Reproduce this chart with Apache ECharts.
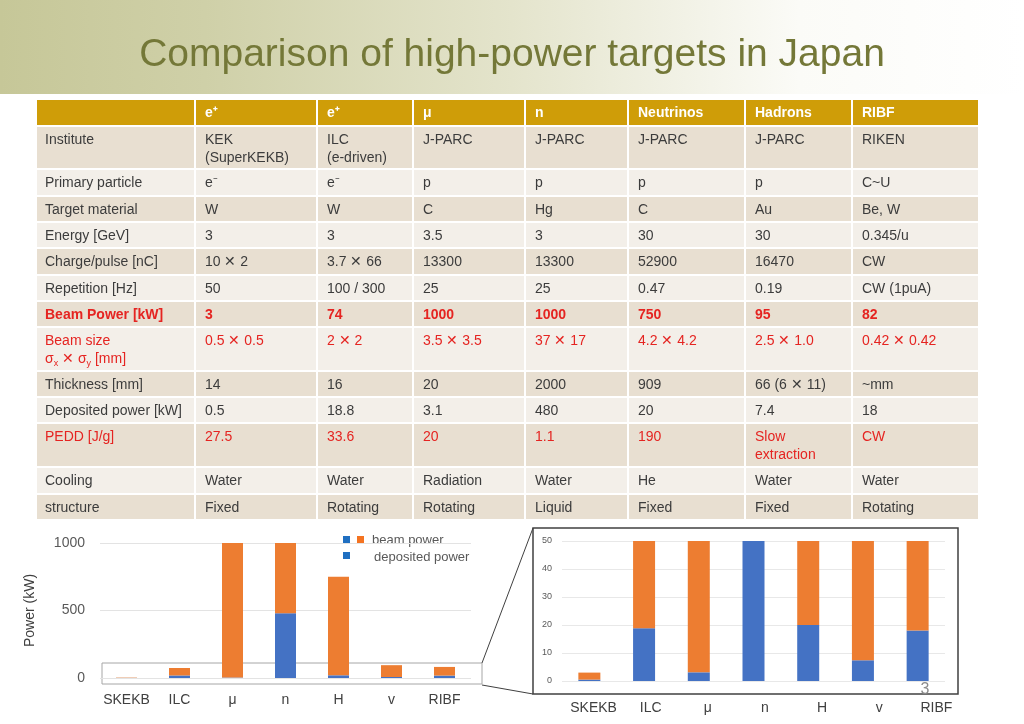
<!DOCTYPE html>
<html>
<head>
<meta charset="utf-8">
<script src="https://cdn.jsdelivr.net/npm/echarts@6/dist/echarts.min.js"></script>
<style>html,body{margin:0;padding:0;background:#fff;}#c{width:1024px;height:724px;}</style>
</head>
<body>
<div id="c"></div>
<script>
// ---- chart data ----
const categories = ['SKEKB', 'ILC', 'μ', 'n', 'H', 'v', 'RIBF'];
const beamPower = [3, 74, 1000, 1000, 750, 95, 82];
const depositedPower = [0.5, 18.8, 3.1, 480, 20, 7.4, 18];
const leftTicks = [0, 500, 1000];
const zoomTicks = [0, 10, 20, 30, 40, 50];

// ---- table data ----
const headerRow = ['', 'e⁺', 'e⁺', 'μ', 'n', 'Neutrinos', 'Hadrons', 'RIBF'];
const rowInstitute = ['Institute', 'KEK\n(SuperKEKB)', 'ILC\n(e-driven)', 'J-PARC', 'J-PARC', 'J-PARC', 'J-PARC', 'RIKEN'];
const rowPrimary = ['Primary particle', 'e⁻', 'e⁻', 'p', 'p', 'p', 'p', 'C~U'];
const rowTarget = ['Target material', 'W', 'W', 'C', 'Hg', 'C', 'Au', 'Be, W'];
const rowEnergy = ['Energy [GeV]', '3', '3', '3.5', '3', '30', '30', '0.345/u'];
const rowCharge = ['Charge/pulse [nC]', '10 ✕ 2', '3.7 ✕ 66', '13300', '13300', '52900', '16470', 'CW'];
const rowRep = ['Repetition [Hz]', '50', '100 / 300', '25', '25', '0.47', '0.19', 'CW (1puA)'];
const rowBeamPower = ['Beam Power [kW]', '3', '74', '1000', '1000', '750', '95', '82'];
const rowBeamSize = ['Beam size\nσx ✕ σy [mm]', '0.5 ✕ 0.5', '2 ✕ 2', '3.5 ✕ 3.5', '37 ✕ 17', '4.2 ✕ 4.2', '2.5 ✕ 1.0', '0.42 ✕ 0.42'];
const rowThick = ['Thickness [mm]', '14', '16', '20', '2000', '909', '66 (6 ✕ 11)', '~mm'];
const rowDeposited = ['Deposited power [kW]', '0.5', '18.8', '3.1', '480', '20', '7.4', '18'];
const rowPEDD = ['PEDD [J/g]', '27.5', '33.6', '20', '1.1', '190', 'Slow\nextraction', 'CW'];
const rowCooling = ['Cooling', 'Water', 'Water', 'Radiation', 'Water', 'He', 'Water', 'Water'];
const rowStructure = ['structure', 'Fixed', 'Rotating', 'Rotating', 'Liquid', 'Fixed', 'Fixed', 'Rotating'];

const bodyRows = [rowInstitute, rowPrimary, rowTarget, rowEnergy, rowCharge, rowRep, rowBeamPower,
  rowBeamSize, rowThick, rowDeposited, rowPEDD, rowCooling, rowStructure];
const rowStyle = ['n', 'n', 'n', 'n', 'n', 'n', 'rb', 'r', 'n', 'n', 'r', 'n', 'n'];

// ---- layout ----
const FONT = '"Liberation Sans", Arial, Helvetica, sans-serif';
const colEdges = [37, 196, 318, 414, 526, 629, 746, 853, 980];
const rowEdges = [100, 127, 170, 197, 223, 249, 276, 302, 328, 372, 398, 424, 468, 495, 521];
const COL_HEADER = '#cf9d08';
const COL_DARK = '#e8dfd1';
const COL_LIGHT = '#f3efe9';
const TXT = '#3c3c3c';
const RED = '#e52421';
const ORANGE = '#ed7d31';
const BLUE = '#4472c4';

const remainder = beamPower.map((b, i) => b - depositedPower[i]);

const graphics = [];
// top background band
graphics.push({
  type: 'rect', z: -10, silent: true,
  shape: { x: 0, y: 0, width: 1024, height: 94 },
  style: {
    fill: new echarts.graphic.LinearGradient(0, 0, 1, 0, [
      { offset: 0, color: '#c6c798' },
      { offset: 0.2, color: '#cfd0a8' },
      { offset: 0.5, color: '#e4e4cc' },
      { offset: 0.78, color: '#fbfbf7' },
      { offset: 1, color: '#ffffff' }
    ])
  }
});
graphics.push({
  type: 'text', x: 512, y: 55, silent: true,
  style: { text: 'Comparison of high-power targets in Japan', fill: '#747838', fontSize: 39,
    fontFamily: FONT, align: 'center', verticalAlign: 'middle' }
});

// table
const allRows = [headerRow].concat(bodyRows);
allRows.forEach((row, r) => {
  const y0 = rowEdges[r], y1 = rowEdges[r + 1];
  const isHeader = r === 0;
  const fill = isHeader ? COL_HEADER : ((r - 1) % 2 === 0 ? COL_DARK : COL_LIGHT);
  const st = isHeader ? 'h' : rowStyle[r - 1];
  row.forEach((txt, c) => {
    const x0 = colEdges[c], x1 = colEdges[c + 1];
    graphics.push({
      type: 'rect', silent: true,
      shape: { x: x0, y: y0, width: x1 - x0 - 2, height: y1 - y0 - 2 },
      style: { fill: fill }
    });
    if (!txt) return;
    const color = st === 'h' ? '#ffffff' : (st === 'n' ? TXT : RED);
    const weight = (st === 'h' || st === 'rb') ? 'bold' : 'normal';
    const tstyle = {
      text: txt, fill: color, fontSize: 14, fontFamily: FONT, fontWeight: weight,
      align: 'left', verticalAlign: 'top', lineHeight: 18
    };
    if (txt.indexOf('σx') >= 0) {
      tstyle.text = '{a|Beam size}\n{a|σ}{s|x}{a| ✕ σ}{s|y}{a| [mm]}';
      tstyle.rich = {
        a: { fill: color, fontSize: 14, fontFamily: FONT, lineHeight: 18 },
        s: { fill: color, fontSize: 9, fontFamily: FONT, lineHeight: 10, verticalAlign: 'bottom' }
      };
    }
    graphics.push({ type: 'text', silent: true, x: x0 + (c === 0 ? 8 : 9), y: y0 + 4, style: tstyle });
  });
});

// zoom indicator box on left chart + connector lines + right frame
graphics.push({ type: 'rect', silent: true, shape: { x: 102, y: 663, width: 380, height: 21 },
  style: { fill: 'none', stroke: '#a6a6a6', lineWidth: 1 } });
graphics.push({ type: 'line', silent: true, shape: { x1: 482, y1: 663, x2: 533, y2: 528 },
  style: { stroke: '#404040', lineWidth: 1 } });
graphics.push({ type: 'line', silent: true, shape: { x1: 482, y1: 685, x2: 533, y2: 694 },
  style: { stroke: '#404040', lineWidth: 1 } });
graphics.push({ type: 'rect', silent: true, shape: { x: 533, y: 528, width: 425, height: 166 },
  style: { fill: 'none', stroke: '#404040', lineWidth: 1.5 } });

// legend (left chart)
graphics.push({ type: 'rect', silent: true, shape: { x: 343, y: 536, width: 7, height: 7 }, style: { fill: '#1f6fc1' } });
graphics.push({ type: 'rect', silent: true, shape: { x: 357, y: 536, width: 7, height: 7 }, style: { fill: '#f47321' } });
graphics.push({ type: 'text', silent: true, x: 372, y: 540,
  style: { text: 'beam power', fill: '#595959', fontSize: 13, fontFamily: FONT, verticalAlign: 'middle' } });
graphics.push({ type: 'rect', silent: true, shape: { x: 343, y: 552, width: 7, height: 7 }, style: { fill: '#1f6fc1' } });
graphics.push({ type: 'text', silent: true, x: 374, y: 557,
  style: { text: 'deposited power', fill: '#595959', fontSize: 13, fontFamily: FONT, verticalAlign: 'middle' } });

// page number
graphics.push({ type: 'text', silent: true, x: 925, y: 690,
  style: { text: '3', fill: '#8c8c8c', fontSize: 16, fontFamily: FONT, align: 'center', verticalAlign: 'middle' } });

const plain = v => String(v);

const chart = echarts.init(document.getElementById('c'), null, { renderer: 'canvas' });
chart.setOption({
  animation: false,
  backgroundColor: '#ffffff',
  textStyle: { fontFamily: FONT },
  grid: [
    { left: 100, right: 1024 - 471, top: 543, bottom: 724 - 678 },
    { left: 562, right: 1024 - 945, top: 541, bottom: 724 - 681 },
    { left: 565, right: 1024 - 965, top: 660, bottom: 724 - 694 }
  ],
  xAxis: [
    { type: 'category', gridIndex: 0, data: categories,
      axisLine: { show: false }, axisTick: { show: false },
      axisLabel: { interval: 0, fontSize: 14, color: '#404040', margin: 15 } },
    { type: 'category', gridIndex: 1, data: categories,
      axisLine: { show: false }, axisTick: { show: false }, axisLabel: { show: false } },
    { type: 'category', gridIndex: 2, data: categories,
      axisLine: { show: false }, axisTick: { show: false },
      axisLabel: { interval: 0, fontSize: 14, color: '#404040', margin: 7 } }
  ],
  yAxis: [
    { type: 'value', gridIndex: 0, min: leftTicks[0], max: leftTicks[leftTicks.length - 1], interval: 500,
      name: 'Power (kW)', nameLocation: 'middle', nameGap: 63, nameRotate: 90,
      nameTextStyle: { fontSize: 14, color: '#404040' },
      axisLabel: { fontSize: 14, color: '#595959', margin: 15, formatter: plain },
      splitLine: { lineStyle: { color: '#e3e3e3' } }, axisLine: { show: false }, axisTick: { show: false } },
    { type: 'value', gridIndex: 1, min: zoomTicks[0], max: zoomTicks[zoomTicks.length - 1], interval: 10,
      axisLabel: { fontSize: 9, color: '#595959', margin: 10, formatter: plain },
      splitLine: { lineStyle: { color: '#e8e8e8' } }, axisLine: { show: false }, axisTick: { show: false } },
    { type: 'value', gridIndex: 2, show: false }
  ],
  series: [
    { type: 'bar', name: 'deposited power', xAxisIndex: 0, yAxisIndex: 0, stack: 'L', barWidth: 21,
      data: depositedPower, itemStyle: { color: BLUE } },
    { type: 'bar', name: 'beam power', xAxisIndex: 0, yAxisIndex: 0, stack: 'L', barWidth: 21,
      data: remainder, itemStyle: { color: ORANGE } },
    { type: 'bar', name: 'deposited power', xAxisIndex: 1, yAxisIndex: 1, stack: 'R', barWidth: 22, clip: true,
      data: depositedPower, itemStyle: { color: BLUE } },
    { type: 'bar', name: 'beam power', xAxisIndex: 1, yAxisIndex: 1, stack: 'R', barWidth: 22, clip: true,
      data: remainder, itemStyle: { color: ORANGE } }
  ],
  graphic: { elements: graphics }
});
</script>
</body>
</html>
